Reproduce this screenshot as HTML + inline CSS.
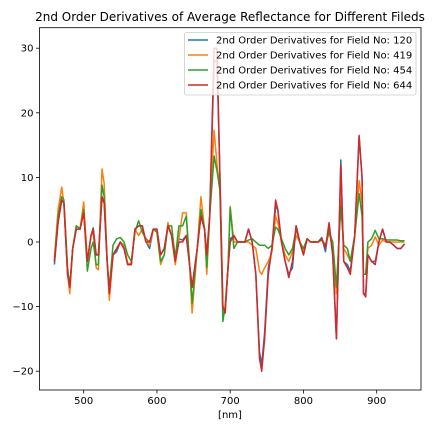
<!DOCTYPE html>
<html><head><meta charset="utf-8"><style>
body{margin:0;background:#fff;font-family:"Liberation Sans","DejaVu Sans",sans-serif}
svg text{font-family:"DejaVu Sans","Liberation Sans",sans-serif}
</style></head><body>
<svg id="chart" width="432" height="432" viewBox="0 0 432 432" xmlns="http://www.w3.org/2000/svg">
<rect width="432" height="432" fill="#fff"/>
<text x="230" y="21" font-size="12" text-anchor="middle" fill="#000">2nd Order Derivatives of Average Reflectance for Different Fileds</text>
<g id="plot"></g>
<text x="230" y="418" font-size="10" text-anchor="middle">[nm]</text>
</svg>
<script>
const wavelengths=[460,465,470,473,478,481,485,490,495,500,505,510,513,517,520,525,528,532,535,540,545,550,555,560,565,570,575,580,585,590,595,600,605,610,615,620,625,630,635,640,645,648,655,660,665,668,672,678,682,686,690,693,697,700,705,710,715,720,725,730,735,740,743,747,752,757,762,765,770,775,780,785,790,795,800,805,810,815,820,825,830,835,840,845,851,855,860,864,870,876,880,882,885,888,893,898,903,908,913,918,923,928,933,938];
const field120=[-3.5,3,6.5,6,-5,-7,-1,2.5,2,4.5,-3,1,2.2,-2,-2,7,6,-3,-8,-2,-1.5,0,-1,-3.5,-3.5,2,2.5,2.5,0,-1,2,2,-2,-1,2.5,1,-3,0.5,0.3,1,-4,-7,-1,4,2,-2,4,28,28,10,-10,-11,-4,0.5,1,0,0,0,2,0,-5,-17,-19,-14,-4,-1,5.5,5,0,-3,-5,-4,2.5,0,-2,0.5,0,0,0,0.7,-1.5,2.5,-2,-15,12.7,-3,-3.5,-4.5,1,16.3,10,-8,-8,-2,-3,-3,0,2,0,0,-0.5,-1,-1,-0.3];
const field419=[-2.5,5,8.5,6,-5,-8,-1,2.5,2,6.2,-3,1,1.5,-4,-4.3,11.3,9,-3,-9,-2,-1,0,-0.5,-3.3,-3.3,2,1,2,0,-0.5,2,1.5,-3.5,-2,3,1,-3.5,0.5,4.5,4.5,-4.5,-11,-1,7,2,-5,4,17.3,12,8,-10,-11,-4,5.5,0,0,0,0,0,-0.5,-1,-4.5,-5,-4,-3,-1.5,4,3,0,-2,-3,-1.5,1,0,-1.5,0.5,0,0,0,0.5,-0.5,1.5,-1,-8,6.5,-1,-2,-3,1,9.5,6,-5,-5,-1,-0.5,0.8,-0.5,0.3,0,0,0,0,0,0];
const field454=[-3,4,7,6.5,-4,-7,-1,2.5,2,5,-4.5,-1,0,-3.5,-3.5,8.8,7,-3,-7,-0.5,0.5,0.7,0,-2,-3,1.5,3.3,1.5,0.5,0,2,1.5,-3,-2,2.5,2.5,-2.5,2.5,2.5,4,-4,-9.5,-1,5,2,-4,4,13.3,11,8,-12.3,-10,-4,5.3,-1,0,0,0,0.3,0.5,0,-0.5,-0.5,-0.5,-1,-0.5,2.3,2,0.5,-1,-2,-1,2,0,-1,0.5,0,0,0,0.3,-0.5,1.5,0,-7,5.5,-0.5,-1,-3,1,7.5,4,-5,-5,0,0.5,1.8,0.5,0.5,0.3,0.3,0.3,0.3,0.2,0.2];
const field644=[-3,3,6.5,6,-5,-7,-1,2,2,4.5,-3,1,2,-2,-2,7,6,-3,-8,-2,-1,0,-1,-3.5,-3.5,2,2.5,2.5,0,0,2,2,-2,-1,2.5,1,-3,0,0,1,-4,-7,-1,4,2,-2,4,30,30,10,-10,-11,-4,0,1,0,0,0,2,0,-5,-18,-20,-15,-5,-1,6.5,5,0,-3,-5.5,-3,2.5,0,-2,0.5,0,0,0,0.5,-1,3,-2,-15,12,-3,-4,-5,1,16.5,10,-8,-8.5,-2,-3,-3.5,0,2,0,0,-0.5,-1,-1,-0.3];
const seriesNames=["2nd Order Derivatives for Field No: 120","2nd Order Derivatives for Field No: 419","2nd Order Derivatives for Field No: 454","2nd Order Derivatives for Field No: 644"];
const xTicks=[500,600,700,800,900];
const yTicks=[-20,-10,0,10,20,30];

const colors=["#1f77b4","#ff7f0e","#2ca02c","#d62728"];
const L=39.5,R=421,T=27.7,B=390;
const X=v=>83.7+(v-500)*0.7325;
const Y=v=>242-v*6.46;
const NS="http://www.w3.org/2000/svg";
const g=document.getElementById('plot');
function mk(t,a){const e=document.createElementNS(NS,t);for(const k in a)e.setAttribute(k,a[k]);return e;}
xTicks.forEach(t=>{
  const l=mk('line',{x1:X(t),x2:X(t),y1:B,y2:B+3.5,stroke:'#000','stroke-width':0.8});
  
  
  g.appendChild(l);
  const tx=mk('text',{x:X(t),y:B+14,'font-size':10,'text-anchor':'middle'});tx.textContent=t;
  
  
  g.appendChild(tx);
});
yTicks.forEach(t=>{
  const l=mk('line',{x1:L-3.5,x2:L,y1:Y(t),y2:Y(t),stroke:'#000','stroke-width':0.8});
  
  
  g.appendChild(l);
  const tx=mk('text',{x:L-6,y:Y(t)+3.5,'font-size':10,'text-anchor':'end'});tx.textContent=t<0?'\u2212'+(-t):t;
  
  
  g.appendChild(tx);
});
[field120,field419,field454,field644].forEach((s,i)=>{
  const p=mk('polyline',{points:s.map((v,j)=>X(wavelengths[j])+','+Y(v)).join(' '),fill:'none',stroke:colors[i],'stroke-width':1.5,'stroke-linejoin':'round'});
  
  
  g.appendChild(p);
});
const fr=mk('rect',{x:L,y:T,width:R-L,height:B-T,fill:'none',stroke:'#000','stroke-width':0.8});


g.appendChild(fr);
const lg=mk('g',{});


g.appendChild(lg);
const lb=mk('rect',{x:184.5,y:32.5,width:231.5,height:62.5,fill:'#fff','fill-opacity':0.8,stroke:'#ccc','stroke-width':0.8,rx:2});
lg.appendChild(lb);
seriesNames.forEach((n,i)=>{
  const y=40+i*15;
  const l=mk('line',{x1:188,x2:208,y1:y,y2:y,stroke:colors[i],'stroke-width':1.5});
  
  
  lg.appendChild(l);
  const t=mk('text',{x:216,y:y+3.5,'font-size':10});t.textContent=n;
  
  
  lg.appendChild(t);
});
</script>
</body></html>
